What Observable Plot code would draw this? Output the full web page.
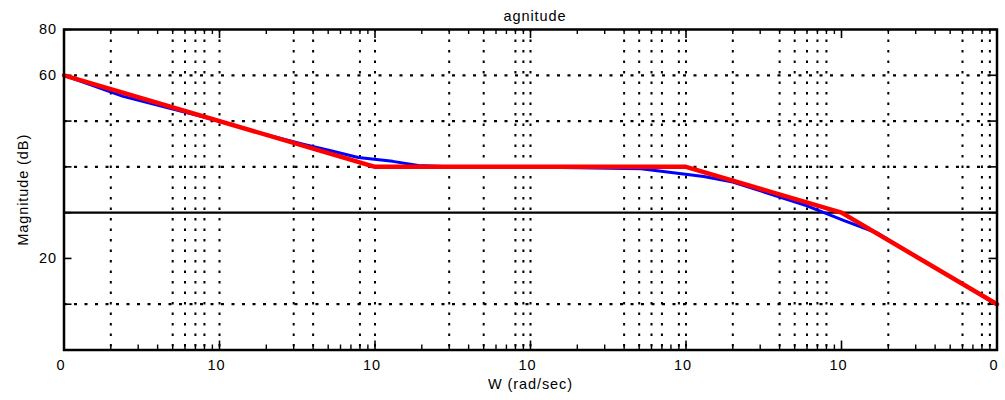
<!DOCTYPE html>
<html><head><meta charset="utf-8">
<script src="https://cdn.jsdelivr.net/npm/d3@7"></script>
<script src="https://cdn.jsdelivr.net/npm/@observablehq/plot@0.6"></script>
<style>
html,body{margin:0;padding:0;background:#fff;}
#chart svg text{letter-spacing:0.9px}
</style>
</head><body><div id="chart"></div>
<script>
// Asymptotic (straight-line) magnitude, red
const asymW  = [0.1, 10, 1000, 10000, 100000];
const asymDB = [60, 20, 20, 0, -40];
const actualW  = [0.1, 0.24, 1, 2, 3.5, 5.2, 7.8, 13, 19, 30, 100, 160, 514, 1300, 2000, 6000, 10400, 17000, 30000, 100000];
const actualDB = [60, 50.8, 40, 34, 29.8, 27.0, 24.1, 22.4, 20.6, 20.1, 20, 19.7, 19.2, 15.8, 13.4, 3.0, -3.5, -8.9, -19.1, -40];

const xTickValues = [0.1, 1, 10, 100, 1000, 10000, 100000];
const xTickLabels = ["0", "10", "10", "10", "10", "10", "0"];
const yTickValues = [80, 60, 40, 20, 0, -20, -40, -60];
const yTickLabels = ["80", "60", "", "", "", "20", "", ""];
// dotted grid lines visible in the picture
const gridX = [0.2, 0.5, 0.6, 0.7, 0.8, 1, 3, 4, 8, 10, 30, 50, 80, 90, 100, 400, 500, 600, 700, 900, 1000, 2000, 4000, 5000, 6000, 7000, 8000, 20000, 60000, 80000, 90000];
const gridY = [60, 40, 20, -40];
const zeroLine = [0];
const minorMultiples = [2, 3, 4, 5, 6, 7, 8, 9];
const decades = [0.1, 1, 10, 100, 1000, 10000];

const titleText = "agnitude";
const xLabel = "W (rad/sec)";
const yLabel = "Magnitude (dB)";

const asym = asymW.map((w, i) => ({w, db: asymDB[i]}));
const actual = actualW.map((w, i) => ({w, db: actualDB[i]}));
const minorX = decades.flatMap(d => minorMultiples.map(m => d * m));

const W = 1005, H = 400, mL = 63.5, mR = 8.5, mT = 29, mB = 50.5;
const pw = W - mL - mR, ph = H - mT - mB;

const plot = Plot.plot({
  width: W, height: H,
  marginLeft: mL, marginRight: mR, marginTop: mT, marginBottom: mB,
  style: {fontFamily: "'Liberation Sans', Arial, sans-serif", fontSize: "14.5px", background: "#fff", color: "#000"},
  x: {type: "log", domain: [0.1, 100000]},
  y: {domain: [-60, 80]},
  marks: [
    Plot.ruleX(gridX, {stroke: "#000", strokeWidth: 2, strokeDasharray: "2.5,8"}),
    Plot.ruleY(gridY, {stroke: "#000", strokeWidth: 2.2, strokeDasharray: "3,7.5"}),
    Plot.ruleY(zeroLine, {stroke: "#000", strokeWidth: 2.2}),
    // inward ticks
    Plot.ruleY(yTickValues, {stroke: "#000", strokeWidth: 1.6, insetRight: pw - 8}),
    Plot.ruleY(yTickValues, {stroke: "#000", strokeWidth: 1.6, insetLeft: pw - 8}),
    Plot.ruleX(minorX, {stroke: "#000", strokeWidth: 1.4, insetBottom: ph - 5}),
    Plot.ruleX(minorX, {stroke: "#000", strokeWidth: 1.4, insetTop: ph - 5}),
    Plot.ruleX(xTickValues, {stroke: "#000", strokeWidth: 1.6, insetBottom: ph - 9}),
    Plot.ruleX(xTickValues, {stroke: "#000", strokeWidth: 1.6, insetTop: ph - 9}),
    Plot.line(actual, {x: "w", y: "db", stroke: "#0000ff", strokeWidth: 3, strokeLinejoin: "round"}),
    Plot.line(asym, {x: "w", y: "db", stroke: "#ff0000", strokeWidth: 4.5, strokeLinejoin: "round"}),
    Plot.frame({stroke: "#000", strokeWidth: 2.5}),
    Plot.axisX({ticks: xTickValues, tickFormat: d => xTickLabels[xTickValues.indexOf(d)], tickSize: 0, tickPadding: 10, dx: -3, label: null}),
    Plot.axisY({ticks: yTickValues, tickFormat: d => yTickLabels[yTickValues.indexOf(d)], tickSize: 0, tickPadding: 7, label: null}),
    Plot.text([titleText], {frameAnchor: "top", lineAnchor: "middle", textAnchor: "middle", dy: -13, dx: 4.5}),
    Plot.text([xLabel], {frameAnchor: "bottom", lineAnchor: "middle", textAnchor: "middle", dy: 34}),
    Plot.text([yLabel], {frameAnchor: "left", lineAnchor: "middle", textAnchor: "middle", dx: -41, rotate: -90})
  ]
});
document.getElementById("chart").appendChild(plot);
</script>
</body></html>
